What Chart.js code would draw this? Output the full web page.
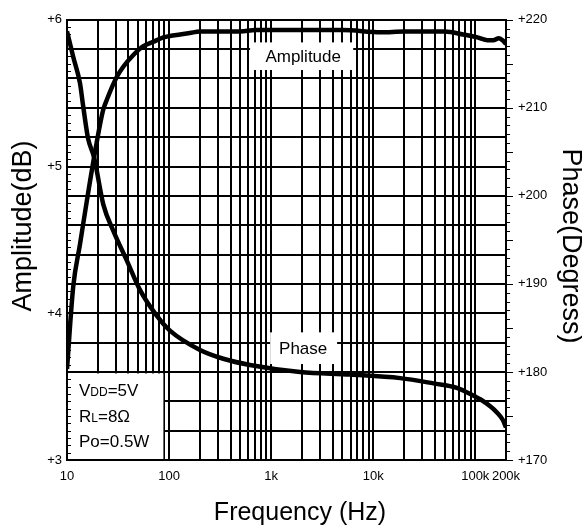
<!DOCTYPE html>
<html>
<head>
<meta charset="utf-8">
<title>Frequency response</title>
<script src="https://cdn.jsdelivr.net/npm/chart.js@4.4.0/dist/chart.umd.min.js"></script>
<style>
  html, body { margin: 0; padding: 0; background: #fff; }
  #wrap { width: 582px; height: 531px; }
</style>
</head>
<body>
<div id="wrap"><canvas id="chart" width="582" height="531"></canvas></div>
<script>
// amplitude (dB) against frequency (Hz)
var ampFreq = [10, 11.5, 13.4, 15.6, 18.4, 22.5, 24.4, 30.7, 35.6, 44.7, 56, 70, 88, 102, 128, 160, 200,
               500, 700, 1000, 5000, 12000, 20000, 50000, 76000, 105000, 132000, 150000, 170000, 185000, 200000];
var ampDb   = [3.62, 4.18, 4.47, 4.76, 5.06, 5.38, 5.45, 5.61, 5.68, 5.76, 5.82, 5.85, 5.88, 5.89, 5.90, 5.91, 5.92,
               5.92, 5.93, 5.93, 5.93, 5.915, 5.92, 5.92, 5.90, 5.88, 5.86, 5.86, 5.875, 5.86, 5.835];

// phase (degrees) against frequency (Hz)
var phaseFreq = [10, 11.5, 13.4, 14.4, 16.1, 18.4, 22.7, 28.5, 38.4, 52, 75.7, 102, 201, 340, 620,
                 1920, 5960, 18400, 38900, 66000, 100000, 112000, 140000, 163000, 185000, 200000];
var phaseDeg  = [218.7, 215.8, 212.8, 210.2, 206.5, 204.4, 199.0, 196.0, 192.7, 189.3, 186.4, 184.7, 182.5, 181.5, 180.8,
                 180.0, 179.7, 179.3, 178.7, 178.2, 177.2, 176.9, 176.1, 175.4, 174.6, 173.7];

var xTickValues = [10, 100, 1000, 10000, 100000, 200000];
var xTickLabels = ['10', '100', '1k', '10k', '100k', '200k'];
var ampTicks = [3, 4, 5, 6];
var phaseTicks = [170, 180, 190, 200, 210, 220];

var FONT = "'Liberation Sans', Arial, Helvetica, sans-serif";
Chart.defaults.font.family = FONT;
Chart.defaults.color = '#000';

// log grid: 1..9 in every decade, stopping at 200k
var xGrid = [];
[10, 100, 1000, 10000, 100000].forEach(function (d) {
    for (var m = 1; m <= 9; m++) {
        if (d * m <= 200000) xGrid.push(d * m);
    }
});

function pairs(xs, ys) {
    return xs.map(function (x, i) { return { x: x, y: ys[i] }; });
}

// white label boxes, text and minor ticks
var decor = {
    id: 'decor',
    beforeDatasetsDraw: function (chart) {
        var ctx = chart.ctx, x = chart.scales.x, y = chart.scales.y, y2 = chart.scales.y2;
        ctx.save();
        ctx.fillStyle = '#fff';
        // test conditions box, bottom left corner
        var bl = x.left + 1, br = x.getPixelForValue(88), bt = y.getPixelForValue(3.59), bb = y.bottom - 1;
        ctx.fillRect(bl, bt, br - bl, bb - bt);
        // "Amplitude" box
        var al = x.getPixelForValue(622), ar = x.getPixelForValue(6370);
        var at = y.getPixelForValue(5.846), ab = y.getPixelForValue(5.658);
        ctx.fillRect(al, at, ar - al, ab - at);
        // "Phase" box
        var pl = x.getPixelForValue(978), pr = x.getPixelForValue(4430);
        var pt = y2.getPixelForValue(184.5), pb = y2.getPixelForValue(180.9);
        ctx.fillRect(pl, pt, pr - pl, pb - pt);

        ctx.fillStyle = '#000';
        ctx.textBaseline = 'middle';
        ctx.textAlign = 'center';
        ctx.font = '17px ' + FONT;
        ctx.fillText('Amplitude', x.getPixelForValue(2060), y.getPixelForValue(5.745));
        ctx.fillText('Phase', x.getPixelForValue(2060), y2.getPixelForValue(182.6));

        // VDD / RL / Po with small subscripts
        ctx.textAlign = 'left';
        ctx.textBaseline = 'alphabetic';
        var lines = [['V', 'DD', '=5V'], ['R', 'L', '=8\u03A9'], ['Po=0.5W', '', '']];
        var base = [bb - 63, bb - 37, bb - 12];
        lines.forEach(function (parts, i) {
            var px = bl + 11;
            ctx.font = '17px ' + FONT;
            ctx.fillText(parts[0], px, base[i]);
            px += ctx.measureText(parts[0]).width;
            ctx.font = '12px ' + FONT;
            ctx.fillText(parts[1], px, base[i]);
            px += ctx.measureText(parts[1]).width;
            ctx.font = '17px ' + FONT;
            ctx.fillText(parts[2], px, base[i]);
        });
        ctx.restore();
    },
    afterDraw: function (chart) {
        var ctx = chart.ctx, y = chart.scales.y, y2 = chart.scales.y2, a = chart.chartArea;
        ctx.save();
        ctx.strokeStyle = '#000';
        ctx.lineWidth = 1.2;
        ctx.beginPath();
        // small inward ticks on the dB axis, every 0.05 dB
        for (var i = 0; i <= 60; i++) {
            var py = Math.round(y.getPixelForValue(3 + i * 0.05)) + 0.5;
            ctx.moveTo(a.left, py);
            ctx.lineTo(a.left + 4, py);
        }
        // outward ticks on the phase axis, every degree
        for (var d = 170; d <= 220; d++) {
            var qy = Math.round(y2.getPixelForValue(d)) + 0.5;
            ctx.moveTo(a.right, qy);
            ctx.lineTo(a.right + (d % 5 === 0 ? 7 : 4), qy);
        }
        ctx.stroke();

        // axis titles
        ctx.fillStyle = '#000';
        ctx.textAlign = 'center';
        ctx.textBaseline = 'middle';
        ctx.font = '25px ' + FONT;
        ctx.fillText('Frequency (Hz)', 300, 513);
        ctx.font = '27px ' + FONT;
        ctx.save();
        ctx.translate(24, 226);
        ctx.rotate(-Math.PI / 2);
        ctx.fillText('Amplitude(dB)', 0, 0);
        ctx.restore();
        ctx.save();
        ctx.translate(570, 246);
        ctx.rotate(Math.PI / 2);
        ctx.fillText('Phase(Degress)', 0, 0);
        ctx.restore();
        ctx.restore();
    }
};

var config = {
    type: 'line',
    data: {
        datasets: [{
            label: 'Amplitude',
            data: pairs(ampFreq, ampDb),
            yAxisID: 'y',
            borderColor: '#000',
            borderWidth: 4.5,
            pointRadius: 0,
            cubicInterpolationMode: 'monotone',
            fill: false
        }, {
            label: 'Phase',
            data: pairs(phaseFreq, phaseDeg),
            yAxisID: 'y2',
            borderColor: '#000',
            borderWidth: 4.5,
            pointRadius: 0,
            cubicInterpolationMode: 'monotone',
            fill: false
        }]
    },
    options: {
        responsive: false,
        animation: false,
        layout: { padding: { top: 12, left: 0, right: 0, bottom: 0 } },
        plugins: { legend: { display: false }, tooltip: { enabled: false } },
        scales: {
            x: {
                type: 'logarithmic',
                min: 10,
                max: 200000,
                afterBuildTicks: function (scale) {
                    scale.ticks = xGrid.map(function (v) { return { value: v }; });
                },
                afterFit: function (scale) { scale.height = 71; },
                grid: { color: '#000', lineWidth: 2, drawTicks: false },
                border: { color: '#000', width: 2 },
                ticks: {
                    autoSkip: false,
                    maxRotation: 0,
                    padding: 9,
                    font: { size: 13 },
                    callback: function (v) {
                        var i = xTickValues.indexOf(v);
                        return i >= 0 ? xTickLabels[i] : '';
                    }
                }
            },
            y: {
                position: 'left',
                min: 3,
                max: 6,
                afterFit: function (scale) { scale.width = 67; },
                grid: { color: '#000', lineWidth: 2, drawTicks: false },
                border: { color: '#000', width: 2 },
                ticks: {
                    stepSize: 0.2,
                    padding: 5,
                    font: { size: 13 },
                    callback: function (v) {
                        var r = Math.round(v);
                        return (Math.abs(v - r) < 1e-6 && ampTicks.indexOf(r) >= 0) ? '+' + r : '';
                    }
                }
            },
            y2: {
                position: 'right',
                min: 170,
                max: 220,
                afterFit: function (scale) { scale.width = 76; },
                grid: { drawOnChartArea: false, drawTicks: false },
                border: { color: '#000', width: 2 },
                ticks: {
                    stepSize: 10,
                    padding: 12,
                    font: { size: 13 },
                    callback: function (v) {
                        return phaseTicks.indexOf(v) >= 0 ? '+' + v : '';
                    }
                }
            }
        }
    },
    plugins: [decor]
};

var ctx = document.getElementById('chart').getContext('2d');
window.respChart = new Chart(ctx, config);
</script>
</body>
</html>
